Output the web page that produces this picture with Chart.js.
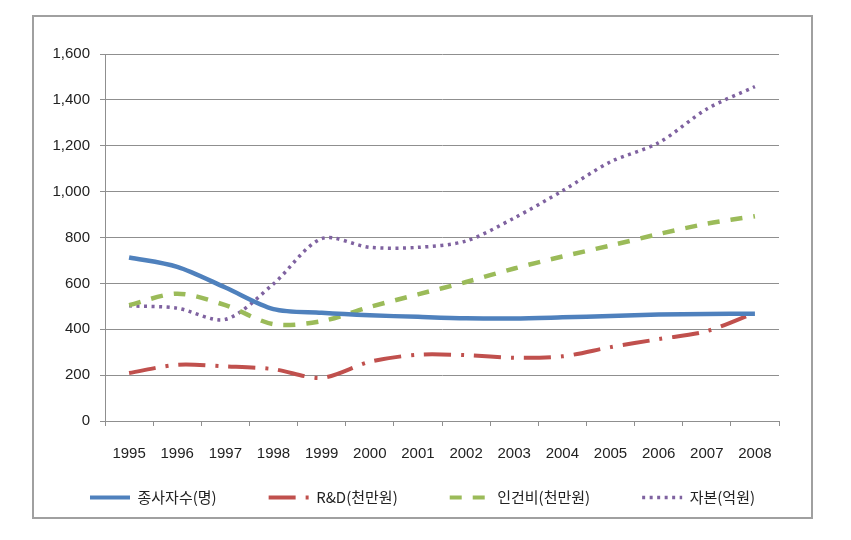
<!DOCTYPE html>
<html><head><meta charset="utf-8">
<script src="https://cdn.jsdelivr.net/npm/chart.js@4.4.1/dist/chart.umd.min.js"></script>
<style>
html,body{margin:0;padding:0;background:#fff;}
#frame{position:absolute;left:32px;top:15px;width:781px;height:504px;box-sizing:border-box;border:2px solid #a0a0a0;background:#fff;}
#c{position:absolute;left:34px;top:17px;display:block;}
</style></head><body>
<div id="frame"></div>
<canvas id="c" width="777" height="526"></canvas>
<script>
const years = ['1995','1996','1997','1998','1999','2000','2001','2002','2003','2004','2005','2006','2007','2008'];
const employees = [713, 672, 582, 488, 472, 461, 454, 448, 447, 452, 458, 464, 467, 468];
const rnd = [209, 245, 238, 226, 188, 258, 289, 287, 276, 282, 322, 357, 392, 472];
const labor = [505, 555, 505, 422, 435, 497, 552, 606, 665, 717, 765, 815, 860, 893];
const capital = [502, 492, 443, 598, 795, 757, 757, 785, 885, 1003, 1130, 1213, 1360, 1458];
const seriesNames = ['종사자수(명)', 'R&D(천만원)', '인건비(천만원)', '자본(억원)'];
const yTicks = {min: 0, max: 1600, step: 200};

const tickFont = {family: "'Liberation Sans',Arial,sans-serif", size: 15};
const gridColor = '#8f8f8f';

const legendShift = {
  id: 'legendShift',
  afterLayout(chart) {
    const lg = chart.legend;
    if (!lg) return;
    const dy = lg.top - 421;
    lg.top -= dy; lg.bottom -= dy;
  }
};

new Chart(document.getElementById('c'), {
  type: 'line',
  data: {
    labels: years,
    datasets: [
      {label: seriesNames[0], data: employees, borderColor: '#4F81BD', backgroundColor: '#4F81BD', borderWidth: 4.5, tension: 0.3, pointRadius: 0},
      {label: seriesNames[1], data: rnd, borderColor: '#C0504D', backgroundColor: '#C0504D', borderWidth: 4, borderDash: [27, 10, 3, 10], tension: 0.3, pointRadius: 0},
      {label: seriesNames[2], data: labor, borderColor: '#9BBB59', backgroundColor: '#9BBB59', borderWidth: 4.5, borderDash: [12, 11], tension: 0.3, pointRadius: 0},
      {label: seriesNames[3], data: capital, borderColor: '#7F62A0', backgroundColor: '#7F62A0', borderWidth: 3.5, borderDash: [3, 4.5], tension: 0.3, pointRadius: 0}
    ]
  },
  plugins: [legendShift],
  options: {
    responsive: false,
    animation: false,
    devicePixelRatio: 1,
    layout: {padding: {left: 0, top: 37, right: 0, bottom: 0}},
    plugins: {
      tooltip: {enabled: false},
      legend: {
        position: 'bottom',
        align: 'center',
        labels: {
          usePointStyle: true,
          pointStyle: 'line',
          pointStyleWidth: 40,
          boxHeight: 15,
          padding: 52,
          color: '#222',
          font: {family: "'Noto Sans CJK KR','Noto Sans',sans-serif", size: 15},
          generateLabels: (chart) => Chart.defaults.plugins.legend.labels.generateLabels(chart).map((item) => {
            const ds = chart.data.datasets[item.datasetIndex];
            return Object.assign({}, item, {lineDash: ds.borderDash || [], lineWidth: Math.min(ds.borderWidth, 4), strokeStyle: ds.borderColor});
          })
        }
      }
    },
    scales: {
      x: {
        offset: true,
        grid: {display: true, offset: true, drawOnChartArea: false, drawTicks: true, tickLength: 5, color: gridColor},
        border: {display: true, color: gridColor, width: 1},
        ticks: {color: '#222', font: tickFont, padding: 19, maxRotation: 0, autoSkip: false},
        afterFit: (s) => { s.height = 45; }
      },
      y: {
        min: yTicks.min, max: yTicks.max,
        grid: {color: gridColor, drawTicks: true, tickLength: 5},
        border: {display: true, color: gridColor, width: 1},
        ticks: {stepSize: yTicks.step, color: '#222', font: tickFont, padding: 10},
        afterFit: (s) => { s.width = 71; }
      },
      yRight: {
        type: 'linear', position: 'right', display: true,
        grid: {display: false}, border: {display: false}, ticks: {display: false},
        afterFit: (s) => { s.width = 32; }
      }
    }
  }
});
</script>
</body></html>
